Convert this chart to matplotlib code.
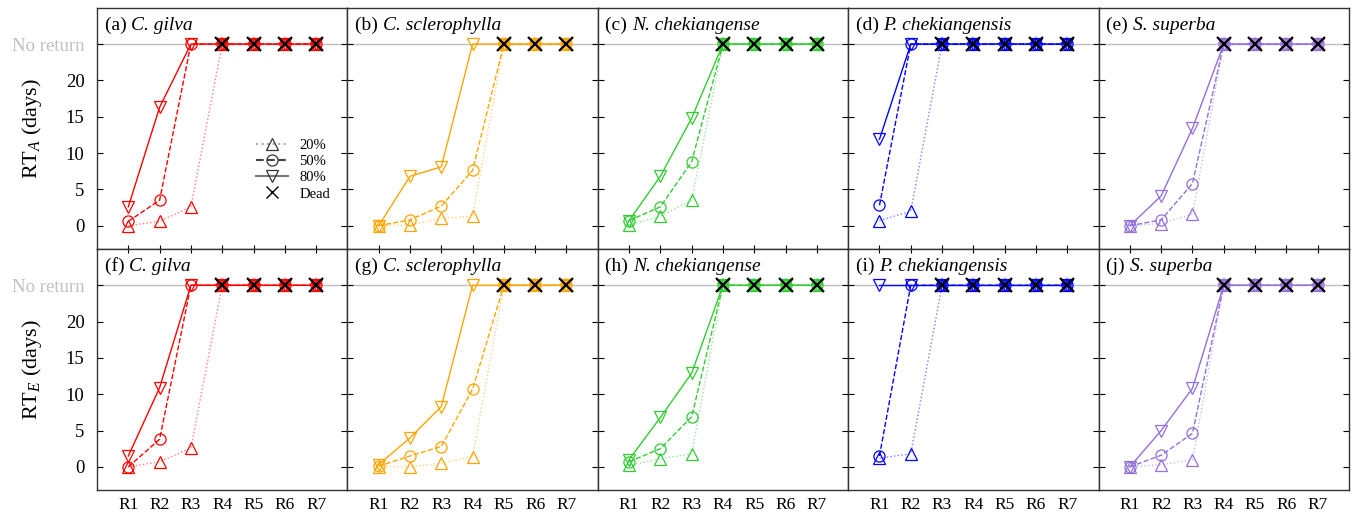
import matplotlib
matplotlib.use("Agg")
import matplotlib.pyplot as plt
from matplotlib.lines import Line2D
import numpy as np

plt.rcParams['font.family'] = ['Liberation Serif', 'DejaVu Serif']
plt.rcParams['mathtext.fontset'] = 'custom'
plt.rcParams['mathtext.rm'] = 'Liberation Serif'
plt.rcParams['mathtext.it'] = 'Liberation Serif:italic'

NR = 25  # "No return"
rounds = ["R1", "R2", "R3", "R4", "R5", "R6", "R7"]
species = ["C. gilva", "C. sclerophylla", "N. chekiangense", "P. chekiangensis", "S. superba"]
colors = ["red", "orange", "limegreen", "blue", "mediumpurple"]
letters_top = ["(a)", "(b)", "(c)", "(d)", "(e)"]
letters_bot = ["(f)", "(g)", "(h)", "(i)", "(j)"]
# first round (1-based) at which trees are dead
dead_from = [4, 5, 4, 3, 4]

# RT_A values: 20%, 50%, 80%
rta_20 = [
    [0.0, 0.6, 2.6, NR, NR, NR, NR],
    [0.0, 0.1, 1.0, 1.3, NR, NR, NR],
    [0.1, 1.3, 3.5, NR, NR, NR, NR],
    [0.7, 2.0, NR, NR, NR, NR, NR],
    [0.0, 0.3, 1.6, NR, NR, NR, NR],
]
rta_50 = [
    [0.6, 3.5, NR, NR, NR, NR, NR],
    [0.0, 0.8, 2.7, 7.6, NR, NR, NR],
    [0.7, 2.6, 8.8, NR, NR, NR, NR],
    [2.8, NR, NR, NR, NR, NR, NR],
    [0.0, 0.8, 5.8, NR, NR, NR, NR],
]
rta_80 = [
    [2.6, 16.3, NR, NR, NR, NR, NR],
    [0.0, 6.8, 8.1, NR, NR, NR, NR],
    [0.7, 6.8, 14.8, NR, NR, NR, NR],
    [11.9, NR, NR, NR, NR, NR, NR],
    [0.0, 4.1, 13.4, NR, NR, NR, NR],
]
# RT_E values
rte_20 = [
    [0.0, 0.7, 2.6, NR, NR, NR, NR],
    [0.0, 0.0, 0.5, 1.4, NR, NR, NR],
    [0.2, 1.1, 1.8, NR, NR, NR, NR],
    [1.2, 1.8, NR, NR, NR, NR, NR],
    [0.0, 0.3, 1.0, NR, NR, NR, NR],
]
rte_50 = [
    [0.0, 3.8, NR, NR, NR, NR, NR],
    [0.1, 1.5, 2.8, 10.7, NR, NR, NR],
    [0.7, 2.5, 6.9, NR, NR, NR, NR],
    [1.5, NR, NR, NR, NR, NR, NR],
    [0.0, 1.6, 4.6, NR, NR, NR, NR],
]
rte_80 = [
    [1.5, 10.9, NR, NR, NR, NR, NR],
    [0.3, 4.0, 8.3, NR, NR, NR, NR],
    [1.0, 6.8, 12.9, NR, NR, NR, NR],
    [NR, NR, NR, NR, NR, NR, NR],
    [0.0, 5.0, 10.8, NR, NR, NR, NR],
]

ytick_vals = [0, 5, 10, 15, 20, 25]
ytick_labels = ["0", "5", "10", "15", "20", "No return"]

fig, axes = plt.subplots(2, 5, figsize=(13.53, 5.17), dpi=100, sharex=True, sharey=True)
fig.subplots_adjust(left=0.0717, right=0.997, top=0.985, bottom=0.052, wspace=0, hspace=0)

x = np.arange(1, 8)
ms = 9
for row, (d20, d50, d80, letters) in enumerate([(rta_20, rta_50, rta_80, letters_top),
                                                 (rte_20, rte_50, rte_80, letters_bot)]):
    for i in range(5):
        ax = axes[row, i]
        c = colors[i]
        ax.axhline(NR, color="#c0c0c0", lw=1.0, zorder=0)
        ax.plot(x, d20[i], ls=':', color=c, alpha=0.5, lw=1.0, zorder=2)
        ax.plot(x, d20[i], ls='none', marker='^', ms=ms, mfc='none', mec=c, mew=0.9, zorder=3)
        ax.plot(x, d50[i], ls='--', color=c, lw=1.0, marker='o', ms=ms - 1, mfc='none', mec=c, mew=0.9, zorder=3)
        ax.plot(x, d80[i], ls='-', color=c, lw=1.0, marker='v', ms=ms, mfc='none', mec=c, mew=0.9, zorder=3)
        xd = x[dead_from[i] - 1:]
        yd = [NR] * len(xd)
        ax.plot(xd, yd, ls='none', marker='*', ms=11, color=c, alpha=0.7, mew=0, zorder=4)
        ax.plot(xd, yd, ls='none', marker='x', ms=10, color='black', mew=1.6, zorder=5)
        lab = ax.text(0.03, 0.965, letters[i] + " ", transform=ax.transAxes, ha='left', va='top', fontsize=14)
        ax.annotate(species[i], xy=(1, 0), xycoords=lab, va='bottom', ha='left',
                    fontsize=14, style='italic')
        ax.set_xlim(0, 8)
        ax.set_ylim(-3.2, 30)
        ax.set_xticks(x)
        ax.set_yticks(ytick_vals)
        ax.tick_params(axis='y', direction='in', left=True, right=True, length=4, labelsize=13.5, pad=9)
        if row == 0:
            ax.tick_params(axis='x', direction='in', bottom=True, top=False, length=3, labelbottom=False)
        else:
            ax.tick_params(axis='x', direction='in', bottom=False, top=True, length=3, labelsize=12.5, pad=5)
        for sp in ax.spines.values():
            sp.set_linewidth(1.0)
            sp.set_color('#333333')

    axes[row, 0].set_yticklabels(ytick_labels)
    axes[row, 0].get_yticklabels()[-1].set_color('#c0c0c0')

axes[1, 0].set_xticklabels(rounds)
axes[0, 0].set_ylabel(r"RT$_{\mathit{A}}$ (days)", fontsize=16)
axes[1, 0].set_ylabel(r"RT$_{\mathit{E}}$ (days)", fontsize=16)
for r in range(2):
    axes[r, 0].yaxis.set_label_coords(-0.21, 0.5)

handles = [
    Line2D([], [], ls=':', color='#aaaaaa', marker='^', ms=ms, mfc='none', mec='#333333', mew=0.9),
    Line2D([], [], ls='--', color='#444444', marker='o', ms=ms - 1, mfc='none', mec='#333333', mew=0.9),
    Line2D([], [], ls='-', color='#777777', marker='v', ms=ms, mfc='none', mec='#333333', mew=0.9),
    Line2D([], [], ls='none', color='black', marker='x', ms=8, mew=1.0),
]
axes[0, 0].legend(handles, ["20%", "50%", "80%", "Dead"], loc='upper left', bbox_to_anchor=(0.61, 0.48),
                  frameon=False, fontsize=10.5, handlelength=2.2, labelspacing=0.2, handletextpad=0.8,
                  borderaxespad=0)

fig.savefig("out.png", dpi=100)
